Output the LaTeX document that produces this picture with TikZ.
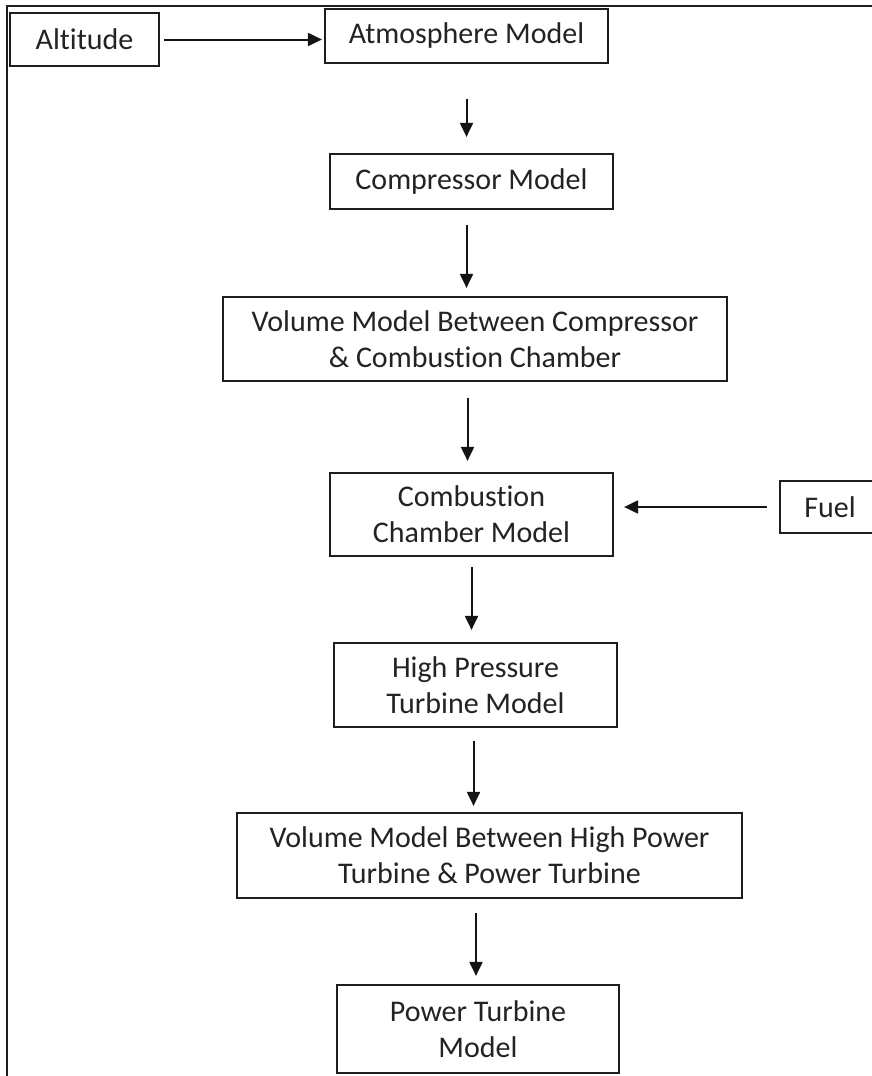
\documentclass[tikz,border=0pt]{standalone}
\usepackage{fontspec}
\setmainfont{Carlito}[Ligatures=NoCommon]
\usetikzlibrary{arrows.meta}
\definecolor{boxcol}{RGB}{30,30,30}
\definecolor{txtcol}{RGB}{35,35,35}
\definecolor{arrcol}{RGB}{20,20,20}
\tikzset{
  box/.style={draw=boxcol, line width=2.2pt, rectangle, inner sep=0pt, align=center, text=txtcol, font=\fontsize{30}{36}\selectfont},
  sz/.style 2 args={minimum width=#1pt, minimum height=#2pt},
  arr/.style={line width=2pt, draw=arrcol, -{Triangle[length=14pt,width=13pt]}},
  frameline/.style={line width=2pt, draw=boxcol}
}
\begin{document}
\begin{tikzpicture}[x=1pt,y=-1pt]
\useasboundingbox (0,0) rectangle (872,1076);
\fill[white] (0,0) rectangle (872,1076);
\clip (0,0) rectangle (872,1076);
\draw[frameline] (7,1080) -- (7,6) -- (876,6);

\node[box, sz={149}{53}] (alt) at (84.5,39.5) {Altitude};
\node[box, sz={283}{54}] (atm) at (466.5,36) {Atmosphere Model};
\node[box, sz={283}{55}] (comp) at (471.5,181.5) {Compressor Model};
\node[box, sz={504}{84}] (vol1) at (475,339) {Volume Model Between Compressor\\\& Combustion Chamber};
\node[box, sz={283}{83}] (comb) at (471.5,514.5) {Combustion\\Chamber Model};
\node[box, sz={100}{52}] (fuel) at (830,507) {Fuel};
\node[box, sz={283}{84}] (hp) at (475.5,685) {High Pressure\\Turbine Model};
\node[box, sz={505}{85}] (vol2) at (489.5,855.5) {Volume Model Between High Power\\Turbine \& Power Turbine};
\node[box, sz={282}{88}] (pow) at (478,1029) {Power Turbine\\Model};

\draw[arr, shorten <=4pt, shorten >=2pt] (alt.east) -- (alt.east -| atm.west);
\draw[arr, shorten <=35pt, shorten >=16pt] (atm.south) -- (atm.south |- comp.north);
\draw[arr, shorten <=15pt, shorten >=8pt] ([xshift=-5pt]comp.south) -- ([xshift=-5pt]comp.south |- vol1.north);
\draw[arr, shorten <=16pt, shorten >=11pt] ([xshift=-4pt]comb.north |- vol1.south) -- ([xshift=-4pt]comb.north);
\draw[arr, shorten <=12pt, shorten >=10pt] (fuel.west) -- (fuel.west -| comb.east);
\draw[arr, shorten <=10pt, shorten >=12pt] (comb.south) -- (comb.south |- hp.north);
\draw[arr, shorten <=13pt, shorten >=6pt] ([xshift=-2pt]hp.south) -- ([xshift=-2pt]hp.south |- vol2.north);
\draw[arr, shorten <=14pt, shorten >=8pt] ([xshift=-2pt]pow.north |- vol2.south) -- ([xshift=-2pt]pow.north);
\end{tikzpicture}
\end{document}
